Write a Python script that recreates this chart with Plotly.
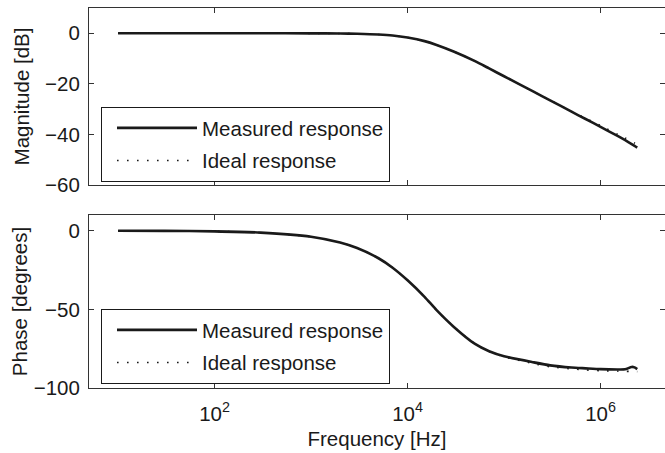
import math
import plotly.graph_objects as go

# ---------------- data ----------------
freq_hz = [10, 30, 100, 300, 1000, 2000, 3000, 5000, 7000, 10000, 15000, 20000,
           30000, 50000, 70000, 100000, 200000, 300000, 500000, 700000,
           1000000, 1500000, 1800000, 2100000, 2250000, 2400000]

mag_measured_db = [0, 0, 0, 0, -0.02, -0.08, -0.2, -0.5, -0.9, -1.7, -3.1, -4.6,
                   -7.2, -11.0, -13.9, -17.0, -23.0, -26.5, -31.0, -33.9,
                   -37.0, -40.6, -42.3, -43.8, -44.5, -45.2]

mag_ideal_db = [0, 0, 0, 0, -0.02, -0.08, -0.2, -0.5, -0.9, -1.7, -3.1, -4.6,
                -7.2, -11.0, -13.9, -17.0, -23.0, -26.5, -30.9, -33.6,
                -36.5, -39.9, -41.4, -42.8, -43.4, -44.0]

phase_measured_deg = [0, -0.1, -0.4, -1.2, -3.8, -7.5, -11.0, -17.5, -23.5, -31.5, -42.0, -50.5,
                      -61.0, -72.0, -76.6, -79.8, -83.6, -85.6, -87.0, -87.5,
                      -88.0, -88.2, -88.1, -86.6, -86.9, -88.0]

phase_ideal_deg = [0, -0.1, -0.4, -1.2, -3.8, -7.5, -11.0, -17.5, -23.5, -31.5, -42.0, -50.5,
                   -61.0, -72.0, -76.8, -80.2, -84.4, -86.5, -87.8, -88.5,
                   -89.0, -89.3, -89.4, -89.5, -89.5, -89.6]

series_names = ["Measured response", "Ideal response"]
x_tick_vals = [1e2, 1e4, 1e6]
x_tick_text = ["10<sup>2</sup>", "10<sup>4</sup>", "10<sup>6</sup>"]
mag_tick_vals = [0, -20, -40, -60]
phase_tick_vals = [0, -50, -100]

# ---------------- styling ----------------
W, H = 665, 453
FONT = "Liberation Sans, Arial, Helvetica, sans-serif"
FS = 20.5
INK = "#1a1a1a"
FRAME = "#333333"

measured_line = dict(color=INK, width=2.6, shape="spline", smoothing=0.6)
ideal_line = dict(color=INK, width=1.6, dash="1.6px,8.4px", shape="spline", smoothing=0.6)

fig = go.Figure()
fig.add_trace(go.Scatter(x=freq_hz, y=mag_measured_db, mode="lines", name=series_names[0],
                         line=measured_line, xaxis="x", yaxis="y", legend="legend",
                         legendgroup="m1"))
fig.add_trace(go.Scatter(x=freq_hz, y=mag_ideal_db, mode="lines", name=series_names[1],
                         line=ideal_line, xaxis="x", yaxis="y", legend="legend",
                         legendgroup="i1"))
fig.add_trace(go.Scatter(x=freq_hz, y=phase_measured_deg, mode="lines", name=series_names[0],
                         line=measured_line, xaxis="x2", yaxis="y2", legend="legend2",
                         legendgroup="m2"))
fig.add_trace(go.Scatter(x=freq_hz, y=phase_ideal_deg, mode="lines", name=series_names[1],
                         line=ideal_line, xaxis="x2", yaxis="y2", legend="legend2",
                         legendgroup="i2"))

x_left_px, x_right_px = 89, 665
px_per_decade = 96.5
x_lo = math.log10(5)
x_hi = x_lo + (x_right_px - x_left_px) / px_per_decade

tfont = dict(family=FONT, size=FS, color=INK)

common_x = dict(type="log", range=[x_lo, x_hi], domain=[x_left_px / W, 1.0],
                tickvals=x_tick_vals, ticktext=x_tick_text, ticks="inside", ticklen=5,
                tickwidth=1, tickcolor=FRAME, showline=True, linecolor=FRAME, linewidth=1,
                mirror="ticks", showgrid=False, zeroline=False, tickfont=tfont,
                ticklabelstandoff=7, automargin=False)
common_y = dict(ticks="inside", ticklen=5, tickwidth=1, tickcolor=FRAME, showline=True,
                linecolor=FRAME, linewidth=1, mirror="ticks", showgrid=False, zeroline=False,
                tickfont=tfont, ticklabelstandoff=4, automargin=False)

legend_common = dict(xanchor="left", yanchor="bottom", bgcolor="white", bordercolor=INK,
                     borderwidth=1, itemwidth=80, indentation=10, font=tfont,
                     tracegroupgap=3, traceorder="grouped")

fig.update_layout(
    width=W, height=H,
    margin=dict(l=0, r=0, t=0, b=0, autoexpand=False),
    paper_bgcolor="white", plot_bgcolor="white",
    font=tfont,
    xaxis=dict(common_x, anchor="y", showticklabels=False),
    xaxis2=dict(common_x, anchor="y2", matches="x",
                title=dict(text="Frequency [Hz]", font=tfont, standoff=8)),
    yaxis=dict(common_y, anchor="x", domain=[1 - 185 / H, 1 - 8 / H], range=[-60, 10],
               tickvals=mag_tick_vals,
               title=dict(text="Magnitude [dB]", font=tfont, standoff=9)),
    yaxis2=dict(common_y, anchor="x2", domain=[1 - 388 / H, 1 - 215 / H], range=[-100, 10],
                tickvals=phase_tick_vals,
                title=dict(text="Phase [degrees]", font=tfont, standoff=0)),
    legend=dict(legend_common, x=101 / W, y=1 - 182 / H),
    legend2=dict(legend_common, x=101 / W, y=1 - 384 / H),
    showlegend=True,
)

fig.write_html("out.html", config={"displayModeBar": False},
               post_script="document.body.style.margin='0';document.body.style.overflow='hidden';")
